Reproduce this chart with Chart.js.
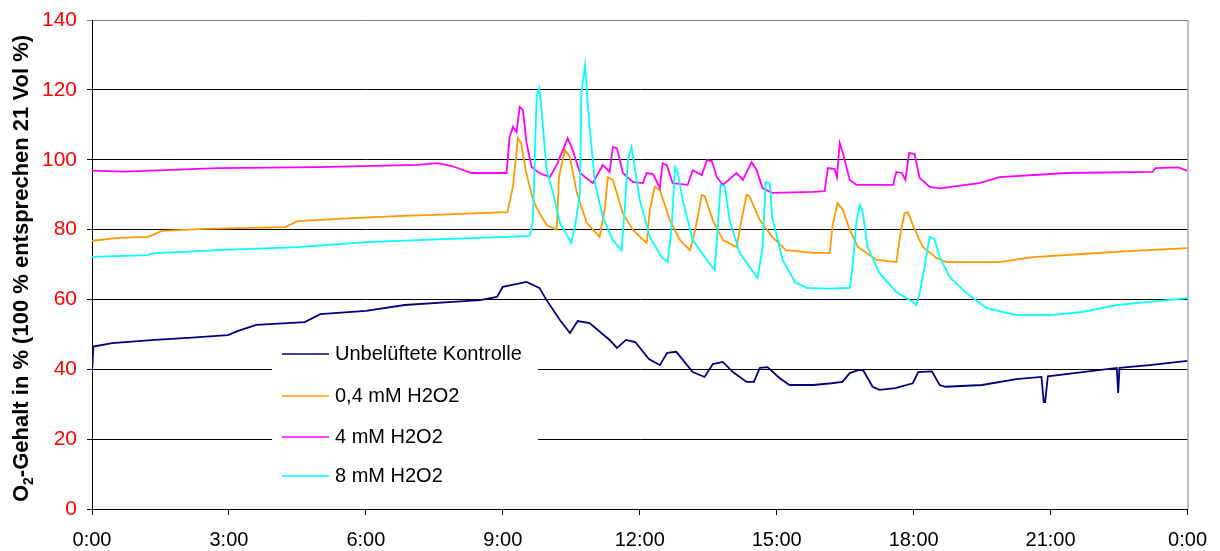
<!DOCTYPE html>
<html>
<head>
<meta charset="utf-8">
<script src="https://cdn.jsdelivr.net/npm/chart.js@4/dist/chart.umd.min.js"></script>
<style>
  html, body { margin: 0; padding: 0; background: #fff; }
  #wrap { width: 1220px; height: 551px; }
</style>
</head>
<body>
<div id="wrap"><canvas id="chart"></canvas></div>
<script>
// Zeit in Stunden ab 0:00, O2-Gehalt in %
const kontrolleT = [0, 0.03, 0.44, 1.38, 2.1, 2.98, 3.2, 3.6, 4.66, 5.0, 6.0, 6.85, 7.9, 8.5, 8.87, 9.0, 9.52, 9.8, 9.96, 10.25, 10.47, 10.64, 10.9, 11.34, 11.5, 11.7, 11.9, 12.2, 12.44, 12.6, 12.8, 13.16, 13.42, 13.6, 13.82, 14.04, 14.34, 14.5, 14.63, 14.8, 15.06, 15.28, 15.8, 16.2, 16.44, 16.6, 16.8, 16.9, 17.1, 17.25, 17.6, 17.98, 18.1, 18.4, 18.57, 18.7, 19.5, 20.25, 20.8, 20.85, 20.88, 20.94, 21.7, 22.45, 22.48, 22.51, 23.17, 24];
const kontrolleV = [39, 46.5, 47.5, 48.4, 49, 49.8, 51, 52.7, 53.5, 55.8, 56.7, 58.4, 59.3, 59.8, 60.7, 63.6, 65, 63.3, 59.8, 54.1, 50.4, 53.8, 53.2, 48.4, 46.1, 48.4, 47.8, 42.9, 41.2, 44.7, 45, 39.2, 37.8, 41.5, 42.1, 39.2, 36.4, 36.4, 40.4, 40.6, 37.5, 35.5, 35.5, 36, 36.4, 38.9, 39.8, 39.6, 35, 34.1, 34.6, 36, 39.2, 39.4, 35.5, 35, 35.5, 37.2, 37.8, 30.6, 30.6, 38, 39.2, 40.4, 33.2, 40.4, 41.2, 42.4];

const mm04T = [0, 0.57, 1.23, 1.53, 2.47, 4.23, 4.5, 5.7, 6.8, 7.5, 8.5, 9.1, 9.22, 9.33, 9.4, 9.5, 9.66, 9.8, 9.96, 10.18, 10.23, 10.36, 10.47, 10.62, 10.84, 11.12, 11.23, 11.3, 11.41, 11.63, 11.85, 12.15, 12.22, 12.33, 12.44, 12.66, 12.88, 13.1, 13.2, 13.36, 13.42, 13.6, 13.82, 14.12, 14.23, 14.34, 14.4, 14.63, 14.9, 15.2, 15.8, 16.16, 16.22, 16.33, 16.45, 16.6, 16.78, 17.19, 17.62, 17.7, 17.8, 17.87, 18.0, 18.2, 18.5, 18.72, 19.88, 20.6, 21.7, 22.8, 24];
const mm04V = [76.8, 77.6, 77.9, 79.6, 80.2, 80.7, 82.4, 83.3, 83.9, 84.2, 84.7, 85, 92.2, 106.2, 104.8, 97, 88.5, 84.7, 81.3, 79.9, 95, 102.8, 100.8, 90.5, 81.9, 77.9, 85.6, 95, 94.2, 84.7, 79.9, 76.2, 85.6, 92.2, 91.3, 82.7, 77, 74.1, 79, 89.9, 89.6, 82.7, 77, 75, 82.7, 89.9, 89.6, 82.7, 77.9, 74.1, 73.3, 73.3, 80.7, 87.6, 85.6, 79.9, 75, 71.3, 70.7, 77.9, 84.7, 85, 80.7, 75, 71.9, 70.7, 70.7, 72.1, 73, 73.9, 74.7];

const mm4T = [0, 0.72, 2.76, 4.95, 7.14, 7.58, 7.88, 8.32, 9.08, 9.15, 9.22, 9.3, 9.37, 9.44, 9.52, 9.63, 9.8, 10.03, 10.2, 10.42, 10.53, 10.69, 10.97, 11.19, 11.34, 11.41, 11.5, 11.63, 11.85, 12.07, 12.15, 12.29, 12.44, 12.5, 12.59, 12.72, 13.05, 13.16, 13.36, 13.47, 13.58, 13.69, 13.82, 14.12, 14.26, 14.45, 14.56, 14.69, 14.9, 15.8, 16.05, 16.12, 16.27, 16.32, 16.38, 16.45, 16.6, 16.75, 17.55, 17.62, 17.74, 17.82, 17.9, 18.02, 18.13, 18.35, 18.57, 19.44, 19.88, 21.35, 23.23, 23.3, 23.8, 24];
const mm4V = [96.9, 96.6, 97.6, 97.9, 98.5, 99, 98.2, 96.2, 96.2, 106.5, 109.4, 107.9, 115.1, 114.2, 104.8, 97.9, 96.2, 95, 99, 106.2, 102.8, 96.2, 93.3, 98.5, 96.5, 103.6, 103.3, 96.2, 93.6, 93.3, 96.2, 95.9, 91.9, 99, 98.5, 93.3, 92.8, 97, 95.6, 99.9, 99.6, 95, 92.8, 96.2, 94.2, 99.3, 97, 91.9, 90.5, 90.8, 91, 97.6, 97.3, 95, 104.8, 101.9, 94.2, 92.8, 92.8, 96.5, 96.2, 94.2, 101.9, 101.6, 94.8, 92.2, 91.8, 93.3, 95, 96.2, 96.5, 97.6, 97.8, 96.8];

const mm8T = [0, 1.23, 1.31, 2.76, 4.5, 6.0, 7.14, 9.04, 9.59, 9.66, 9.74, 9.8, 9.88, 9.96, 10.1, 10.25, 10.5, 10.58, 10.69, 10.72, 10.8, 10.84, 10.9, 11.02, 11.19, 11.41, 11.6, 11.67, 11.74, 11.82, 11.89, 12.0, 12.22, 12.48, 12.61, 12.7, 12.77, 12.83, 12.94, 13.16, 13.47, 13.64, 13.71, 13.77, 13.86, 13.97, 14.19, 14.41, 14.58, 14.69, 14.76, 14.85, 14.9, 15.13, 15.4, 15.65, 16.16, 16.6, 16.66, 16.75, 16.82, 16.88, 16.99, 17.25, 17.62, 17.98, 18.06, 18.13, 18.24, 18.35, 18.46, 18.57, 18.79, 19.16, 19.6, 20.25, 20.98, 21.7, 22.44, 23.17, 24];
const mm8V = [72.2, 72.7, 73.2, 74.1, 75, 76.4, 77, 77.9, 78.2, 82.7, 118, 120.5, 109.4, 97, 90.5, 81.9, 76.2, 80.7, 90.5, 119, 127.1, 120, 109.4, 93.3, 83.6, 77, 74.1, 85.6, 99.9, 103.6, 97.9, 88.5, 77.9, 72.1, 70.7, 80.7, 97.9, 96.5, 88.5, 77, 71.3, 68.4, 80.7, 92.8, 92.5, 82.7, 73.3, 69.3, 66.1, 75, 93.6, 93.3, 83.6, 71.3, 65, 63.3, 63.1, 63.3, 69.3, 82.7, 87, 85.6, 75, 67.6, 62.1, 59.3, 58.4, 61.8, 69.3, 77.9, 77.3, 72.1, 66.4, 61.8, 57.5, 55.5, 55.5, 56.4, 58.4, 59.3, 60.4];

const seriesNames = ["Unbelüftete Kontrolle", "0,4 mM H2O2", "4 mM H2O2", "8 mM H2O2"];
const seriesColors = ["#000080", "#FF9900", "#FF00FF", "#00FFFF"];
const yTicks = [0, 20, 40, 60, 80, 100, 120, 140];
const xTicks = [0, 3, 6, 9, 12, 15, 18, 21, 24];

const FONT = '"Liberation Sans", Arial, sans-serif';

function points(t, v) {
    return t.map((h, i) => ({x: h, y: v[i]}));
}

const series = [[kontrolleT, kontrolleV], [mm04T, mm04V], [mm4T, mm4V], [mm8T, mm8V]];

// Achsentitel mit tiefgestellter 2
const yTitle = {
    id: "yTitle",
    afterDraw(chart) {
        const {ctx, chartArea} = chart;
        const rest = "-Gehalt in % (100 % entsprechen 21 Vol %)";
        const big = "bold 22px " + FONT, small = "bold 14px " + FONT;
        ctx.save();
        ctx.translate(22, (chartArea.top + chartArea.bottom) / 2 + 4);
        ctx.rotate(-Math.PI / 2);
        ctx.fillStyle = "#000";
        ctx.textBaseline = "middle";
        ctx.textAlign = "left";
        ctx.font = big;
        const wO = ctx.measureText("O").width;
        const wRest = ctx.measureText(rest).width;
        ctx.font = small;
        const w2 = ctx.measureText("2").width;
        let x = -(wO + w2 + wRest) / 2;
        ctx.font = big;
        ctx.fillText("O", x, 0);
        x += wO;
        ctx.font = small;
        ctx.fillText("2", x, 7);
        x += w2;
        ctx.font = big;
        ctx.fillText(rest, x, 0);
        ctx.restore();
    }
};

// Rahmen rechts und Legende im Diagramm
const frameAndLegend = {
    id: "frameAndLegend",
    afterDatasetsDraw(chart) {
        const {ctx, chartArea} = chart;
        ctx.save();
        ctx.strokeStyle = "#808080";
        ctx.lineWidth = 1;
        ctx.beginPath();
        ctx.moveTo(chartArea.right + 0.5, chartArea.top);
        ctx.lineTo(chartArea.right + 0.5, chartArea.bottom);
        ctx.stroke();

        ctx.fillStyle = "#fff";
        ctx.fillRect(272, 336, 266, 164);
        ctx.font = "20px " + FONT;
        ctx.textBaseline = "middle";
        ctx.textAlign = "left";
        const rows = [354, 396, 437, 476];
        seriesNames.forEach((name, i) => {
            ctx.strokeStyle = seriesColors[i];
            ctx.lineWidth = 1.5;
            ctx.beginPath();
            ctx.moveTo(282, rows[i]);
            ctx.lineTo(329, rows[i]);
            ctx.stroke();
            ctx.fillStyle = "#000";
            ctx.fillText(name, 335, rows[i]);
        });
        ctx.restore();
    }
};

new Chart(document.getElementById("chart"), {
    type: "line",
    data: {
        datasets: series.map((s, i) => ({
            label: seriesNames[i],
            data: points(s[0], s[1]),
            borderColor: seriesColors[i],
            backgroundColor: seriesColors[i],
            borderWidth: 1.8,
            pointRadius: 0,
            tension: 0,
            order: 3 - i
        }))
    },
    options: {
        responsive: true,
        maintainAspectRatio: false,
        animation: false,
        layout: {padding: {top: 20, right: 32, bottom: 0, left: 0}},
        plugins: {
            legend: {display: false},
            tooltip: {enabled: false}
        },
        scales: {
            x: {
                type: "linear",
                min: 0,
                max: 24,
                afterBuildTicks: (scale) => { scale.ticks = xTicks.map(v => ({value: v})); },
                afterFit: (scale) => { scale.height = 42; },
                grid: {drawOnChartArea: false, tickLength: 6, color: "#000", lineWidth: 1},
                border: {color: "#000", width: 1},
                ticks: {
                    color: "#000",
                    font: {family: FONT, size: 20},
                    padding: 13,
                    maxRotation: 0,
                    callback: (v) => (v % 24) + ":00"
                }
            },
            y: {
                min: 0,
                max: 140,
                afterBuildTicks: (scale) => { scale.ticks = yTicks.map(v => ({value: v})); },
                afterFit: (scale) => {
                    scale.width = 92;
                    scale.paddingTop = 12;
                    scale.paddingBottom = 12;
                },
                grid: {
                    color: (c) => c.tick && c.tick.value === 140 ? "#808080" : "#000",
                    lineWidth: 1,
                    tickLength: 5
                },
                border: {color: "#000", width: 1},
                ticks: {
                    color: "#FF0000",
                    font: {family: FONT, size: 21},
                    padding: 10
                }
            }
        }
    },
    plugins: [yTitle, frameAndLegend]
});
</script>
</body>
</html>
